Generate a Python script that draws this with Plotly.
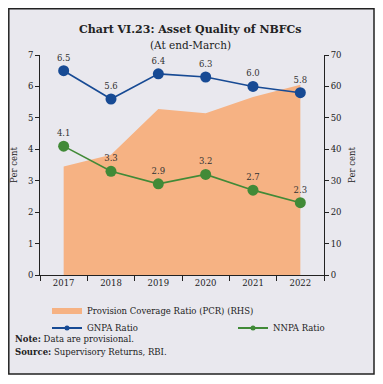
import plotly.graph_objects as go

years = ["2017", "2018", "2019", "2020", "2021", "2022"]
gnpa = [6.5, 5.6, 6.4, 6.3, 6.0, 5.8]
nnpa = [4.1, 3.3, 2.9, 3.2, 2.7, 2.3]
pcr = [34.5, 38.3, 52.8, 51.5, 56.6, 60.5]

FONT = "DejaVu Serif"
BG = "#e9e8ee"
ORANGE = "#f6b283"
BLUE = "#174a94"
GREEN = "#418a37"

fig = go.Figure()

# PCR area on the primary axis (drawn at the right side), lines overlay on top
fig.add_trace(go.Scatter(
    x=years, y=pcr, yaxis="y", mode="none", fill="tozeroy",
    fillcolor=ORANGE, name="Provision Coverage Ratio (PCR) (RHS)",
    legend="legend", hoverinfo="skip"))

fig.add_trace(go.Scatter(
    x=years, y=gnpa, yaxis="y2", mode="lines+markers+text", name="GNPA Ratio",
    line=dict(color=BLUE, width=1.6), marker=dict(size=11, color=BLUE),
    text=[f"{v:.1f}" for v in gnpa], textposition="top center",
    textfont=dict(family=FONT, size=8.5, color="#333"), cliponaxis=False,
    showlegend=False))

fig.add_trace(go.Scatter(
    x=years, y=nnpa, yaxis="y2", mode="lines+markers+text", name="NNPA Ratio",
    line=dict(color=GREEN, width=1.6), marker=dict(size=11, color=GREEN),
    text=[f"{v:.1f}" for v in nnpa], textposition="top center",
    textfont=dict(family=FONT, size=8.5, color="#333"), cliponaxis=False,
    showlegend=False))

# legend-only entries with small markers
fig.add_trace(go.Scatter(
    x=[None], y=[None], yaxis="y2", mode="lines+markers", name="GNPA Ratio",
    line=dict(color=BLUE, width=2), marker=dict(size=5, color=BLUE),
    legend="legend2"))
fig.add_trace(go.Scatter(
    x=[None], y=[None], yaxis="y2", mode="lines+markers", name="NNPA Ratio",
    line=dict(color=GREEN, width=2), marker=dict(size=5, color=GREEN),
    legend="legend3"))

# page has an 8px body margin; size the figure to fit the 383x384 window
OFF = 8
W, H = 383 - OFF, 384 - OFF
# plot area in page pixels
L, R, T, B = 40, 324, 55, 275

def px(x):
    return (x - L) / (R - L)

def py(y):
    return (B - y) / (B - T)

axis_common = dict(showgrid=False, showline=True, linecolor="#222",
                   linewidth=1, ticks="outside", ticklen=4, tickcolor="#222",
                   zeroline=False)

fig.update_layout(
    width=W, height=H,
    margin=dict(l=L - OFF, r=W - (R - OFF), t=T - OFF, b=H - (B - OFF),
                autoexpand=False),
    paper_bgcolor="white", plot_bgcolor="rgba(0,0,0,0)",
    font=dict(family=FONT, size=8.5, color="#222"),
    xaxis=dict(type="category", range=[-0.5, 5.5], showgrid=False,
               showline=True, linecolor="#222", linewidth=1,
               ticks="outside", tickson="boundaries", ticklen=5,
               tickcolor="#222", tickfont=dict(size=8.5), zeroline=False),
    yaxis=dict(range=[0, 70], dtick=10, side="right",
               title=dict(text="Per cent", font=dict(size=8.5), standoff=8),
               **axis_common),
    yaxis2=dict(range=[0, 7], dtick=1, overlaying="y", side="left",
                title=dict(text="Per cent", font=dict(size=8.5), standoff=8),
                **axis_common),
    legend=dict(x=px(47), y=py(311), xanchor="left", yanchor="middle",
                bgcolor="rgba(0,0,0,0)", font=dict(size=8.5)),
    legend2=dict(x=px(47), y=py(328), xanchor="left", yanchor="middle",
                 bgcolor="rgba(0,0,0,0)", font=dict(size=8.5)),
    legend3=dict(x=px(233), y=py(328), xanchor="left", yanchor="middle",
                 bgcolor="rgba(0,0,0,0)", font=dict(size=8.5)),
    shapes=[dict(type="rect", xref="paper", yref="paper",
                 x0=px(OFF + 0.8), x1=px(374), y0=py(374), y1=py(OFF + 0.8),
                 fillcolor=BG, line=dict(color="#222", width=1.5),
                 layer="below")],
    annotations=[
        dict(text="<b>Chart VI.23: Asset Quality of NBFCs</b>", xref="paper",
             yref="paper", x=px(190), y=py(21), showarrow=False,
             font=dict(size=11, color="#222")),
        dict(text="(At end-March)", xref="paper", yref="paper",
             x=px(190), y=py(37), showarrow=False,
             font=dict(size=10.5, color="#222")),
        dict(text="<b>Note:</b> Data are provisional.", xref="paper",
             yref="paper", x=px(13), y=py(346), xanchor="left",
             showarrow=False, font=dict(size=8.5, color="#222")),
        dict(text="<b>Source:</b> Supervisory Returns, RBI.", xref="paper",
             yref="paper", x=px(13), y=py(359), xanchor="left",
             showarrow=False, font=dict(size=8.5, color="#222")),
    ],
)

fig.write_html("out.html", config={"displayModeBar": False})
